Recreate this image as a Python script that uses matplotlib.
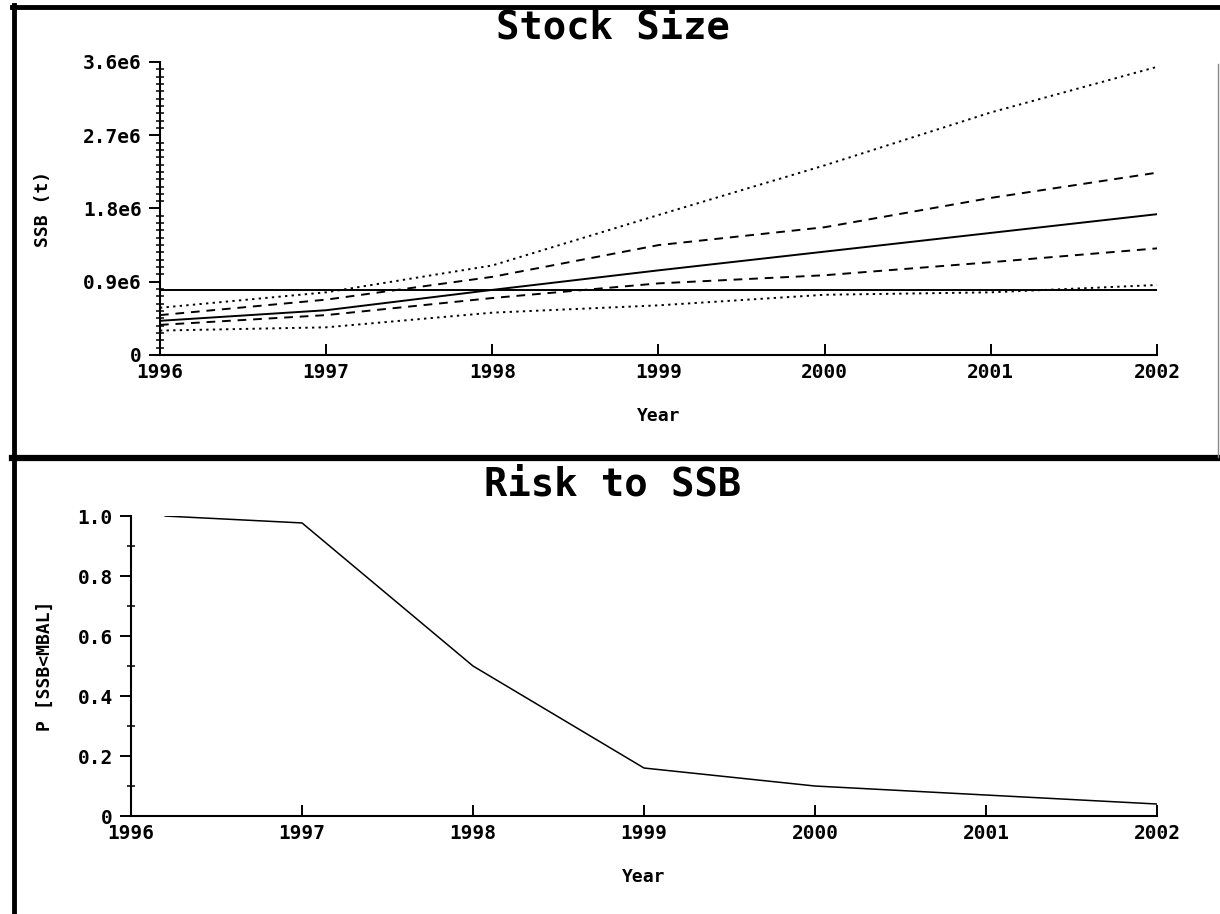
import matplotlib.pyplot as plt
from matplotlib.ticker import MultipleLocator
from matplotlib.lines import Line2D

# Stock size projections (SSB in tonnes), percentiles by year
years = [1996, 1997, 1998, 1999, 2000, 2001, 2002]
ssb_p95 = [0.58e6, 0.77e6, 1.10e6, 1.72e6, 2.33e6, 2.98e6, 3.54e6]
ssb_p75 = [0.49e6, 0.68e6, 0.96e6, 1.35e6, 1.57e6, 1.93e6, 2.24e6]
ssb_p50 = [0.42e6, 0.55e6, 0.80e6, 1.04e6, 1.27e6, 1.50e6, 1.73e6]
ssb_p25 = [0.37e6, 0.49e6, 0.70e6, 0.88e6, 0.98e6, 1.14e6, 1.31e6]
ssb_p05 = [0.30e6, 0.34e6, 0.52e6, 0.61e6, 0.74e6, 0.77e6, 0.86e6]
mbal = 0.80e6

# Risk to SSB: P[SSB < MBAL]
risk_years = [1996.2, 1997, 1998, 1999, 2000, 2001, 2002]
risk_p = [1.0, 0.977, 0.50, 0.16, 0.10, 0.07, 0.04]

ssb_ticks = [0, 0.9e6, 1.8e6, 2.7e6, 3.6e6]
ssb_labels = ["0", "0.9e6", "1.8e6", "2.7e6", "3.6e6"]
p_ticks = [0, 0.2, 0.4, 0.6, 0.8, 1.0]
p_labels = ["0", "0.2", "0.4", "0.6", "0.8", "1.0"]

mono = "DejaVu Sans Mono"
plt.rcParams['font.family'] = mono
plt.rcParams['font.weight'] = 'bold'

fig = plt.figure(figsize=(12.2, 9.14), dpi=100)

ax1 = fig.add_axes([0.1311, 0.6116, 0.9484 - 0.1311, 0.9322 - 0.6116])
ax2 = fig.add_axes([0.1074, 0.1072, 0.9484 - 0.1074, 0.4354 - 0.1072])

lw = 1.4
ax1.plot(years, ssb_p95, color='black', lw=lw, linestyle=(0, (1.2, 2.2)))
ax1.plot(years, ssb_p75, color='black', lw=lw, linestyle=(0, (4.5, 3.5)))
ax1.plot(years, ssb_p50, color='black', lw=lw, linestyle='-')
ax1.plot(years, ssb_p25, color='black', lw=lw, linestyle=(0, (4.5, 3.5)))
ax1.plot(years, ssb_p05, color='black', lw=lw, linestyle=(0, (1.2, 2.2)))
ax1.axhline(mbal, color='black', lw=1.4)

ax2.plot(risk_years, risk_p, color='black', lw=1.1)

for ax in (ax1, ax2):
    ax.set_xlim(1996, 2002)
    ax.set_xticks(years)
    ax.set_xticklabels([str(y) for y in years])
    for s in ('top', 'right'):
        ax.spines[s].set_visible(False)
    for s in ('left', 'bottom'):
        ax.spines[s].set_linewidth(1.5)
    ax.tick_params(axis='x', direction='in', length=8, width=1.4, pad=6, labelsize=14)
    ax.tick_params(axis='y', which='major', direction='out', length=8, width=1.4,
                   pad=5, labelsize=14)
    ax.tick_params(axis='y', which='minor', direction='inout', length=6, width=1.1)
    ax.set_xlabel("Year", fontsize=13, fontweight='bold', labelpad=18)

ax1.set_ylim(0, 3.6e6)
ax1.set_yticks(ssb_ticks)
ax1.set_yticklabels(ssb_labels)
ax1.yaxis.set_minor_locator(MultipleLocator(0.09e6))
ax1.set_ylabel("SSB (t)", fontsize=13, fontweight='bold')
ax1.yaxis.set_label_coords(-0.108, 0.5)

ax2.set_ylim(0, 1.0)
ax2.set_yticks(p_ticks)
ax2.set_yticklabels(p_labels)
ax2.yaxis.set_minor_locator(MultipleLocator(0.1))
ax2.set_ylabel("P [SSB<MBAL]", fontsize=13, fontweight='bold')
ax2.yaxis.set_label_coords(-0.0755, 0.5)

fig.text(0.502, 0.970, "Stock Size", ha='center', va='center', fontsize=28,
         fontweight='bold')
fig.text(0.502, 0.470, "Risk to SSB", ha='center', va='center', fontsize=28,
         fontweight='bold')

# frame lines of the original output page
fig.add_artist(Line2D([0.010, 1.0], [0.9925, 0.9925], color='black', lw=3.5,
                      transform=fig.transFigure))
fig.add_artist(Line2D([0.010, 1.0], [0.4985, 0.4985], color='black', lw=4.5,
                      transform=fig.transFigure))
fig.add_artist(Line2D([0.0115, 0.0115], [0.0, 0.994], color='black', lw=3.5,
                      transform=fig.transFigure))
fig.add_artist(Line2D([0.998, 0.998], [0.5, 0.93], color='#888888', lw=1.0,
                      transform=fig.transFigure))

fig.savefig("out.png", dpi=100)
